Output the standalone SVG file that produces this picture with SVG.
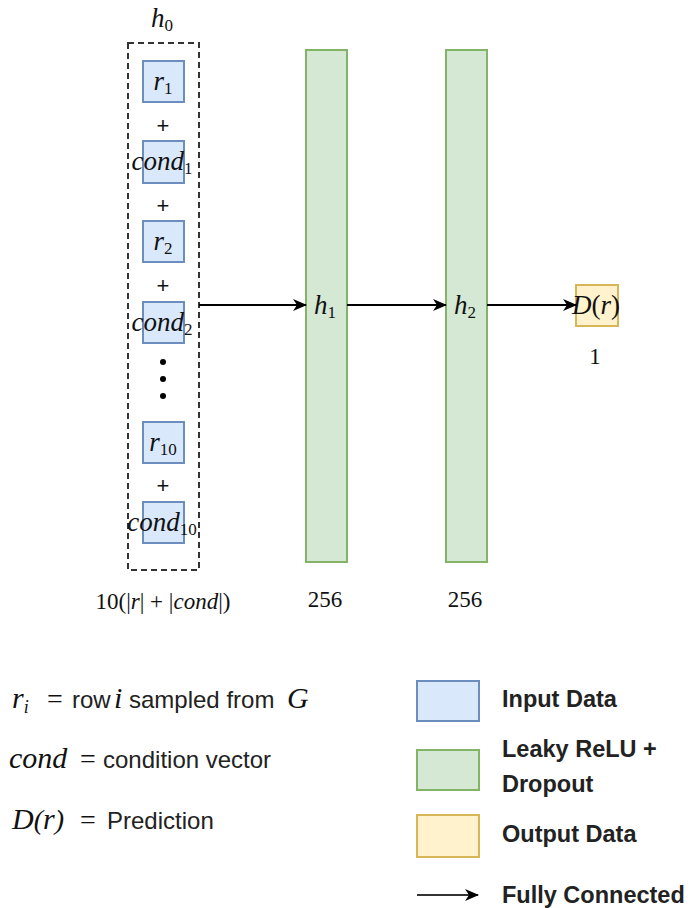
<svg xmlns="http://www.w3.org/2000/svg" width="690" height="908" viewBox="0 0 690 908">
<defs>
<style>
.in{fill:#dae8fc;stroke:#6c8ebf;stroke-width:2}
.hid{fill:#d5e8d4;stroke:#82b366;stroke-width:2}
.out{fill:#fff2cc;stroke:#d6b656;stroke-width:2}
.m{font-family:"Liberation Serif",serif;font-style:italic;font-size:27px;fill:#111}
.ml{font-family:"Liberation Serif",serif;font-style:italic;font-size:30px;fill:#111}
.eq{font-family:"Liberation Serif",serif;font-size:28px;fill:#111}
.sub{font-style:normal;font-size:17px}
.n{font-family:"Liberation Serif",serif;font-size:23px;fill:#111}
.s{font-family:"Liberation Sans",Arial,sans-serif;font-size:24px;fill:#222}
.b{font-family:"Liberation Sans",Arial,sans-serif;font-size:23.5px;fill:#222;font-weight:bold}
.plus{font-family:"Liberation Sans",Arial,sans-serif;font-size:22px;fill:#111}
.edge{stroke:#000;stroke-width:2;fill:none}
</style>
<marker id="ah" viewBox="0 0 14 12" refX="13" refY="6" markerWidth="14" markerHeight="12" markerUnits="userSpaceOnUse" orient="auto">
<path d="M0,0 L14,6 L0,12 L4,6 Z" fill="#000"/>
</marker>
</defs>

<g id="h0">
<rect x="128" y="43" width="71" height="527" fill="none" stroke="#333" stroke-width="2" stroke-dasharray="6,4"/>
<text class="m" x="162" y="27" text-anchor="middle" font-size="24">h<tspan class="sub" dy="4" font-size="15">0</tspan></text>
</g>
<g id="r1"><rect class="in" x="143" y="61" width="41" height="41"/><text class="m" x="163" y="90" text-anchor="middle">r<tspan class="sub" dy="4">1</tspan></text></g>
<text class="plus" x="163" y="133" text-anchor="middle">+</text>
<g id="cond1"><rect class="in" x="143" y="141" width="41" height="42"/><text class="m" x="162" y="170" text-anchor="middle">cond<tspan class="sub" dy="4">1</tspan></text></g>
<text class="plus" x="163" y="213" text-anchor="middle">+</text>
<g id="r2"><rect class="in" x="143" y="221" width="41" height="41"/><text class="m" x="163" y="250" text-anchor="middle">r<tspan class="sub" dy="4">2</tspan></text></g>
<text class="plus" x="163" y="293" text-anchor="middle">+</text>
<g id="cond2"><rect class="in" x="143" y="302" width="41" height="41"/><text class="m" x="162" y="331" text-anchor="middle">cond<tspan class="sub" dy="4">2</tspan></text></g>
<g id="dots" fill="#000"><circle cx="163" cy="362" r="3"/><circle cx="163" cy="379" r="3"/><circle cx="163" cy="396" r="3"/></g>
<g id="r10"><rect class="in" x="143" y="422" width="41" height="41"/><text class="m" x="163" y="451" text-anchor="middle">r<tspan class="sub" dy="4">10</tspan></text></g>
<text class="plus" x="163" y="493" text-anchor="middle">+</text>
<g id="cond10"><rect class="in" x="143" y="502" width="41" height="41"/><text class="m" x="162" y="531" text-anchor="middle">cond<tspan class="sub" dy="4">10</tspan></text></g>
<text class="n" x="163" y="609" text-anchor="middle" font-size="16">10(|<tspan font-style="italic">r</tspan>| + |<tspan font-style="italic">cond</tspan>|)</text>

<g id="h1"><rect class="hid" x="306" y="50" width="41" height="512"/><text class="m" x="325" y="314" text-anchor="middle">h<tspan class="sub" dy="4">1</tspan></text><text class="n" x="325" y="607" text-anchor="middle">256</text></g>
<g id="h2"><rect class="hid" x="446" y="50" width="41" height="512"/><text class="m" x="465" y="314" text-anchor="middle">h<tspan class="sub" dy="4">2</tspan></text><text class="n" x="465" y="607" text-anchor="middle">256</text></g>
<g id="Dr"><rect class="out" x="576" y="285" width="42" height="41"/><text class="m" x="596" y="314" text-anchor="middle">D<tspan font-style="normal">(</tspan>r<tspan font-style="normal">)</tspan></text><text class="n" x="595" y="364" text-anchor="middle">1</text></g>

<g id="connectors">
<line class="edge" x1="199" y1="305" x2="306" y2="305" marker-end="url(#ah)"/>
<line class="edge" x1="347" y1="305" x2="446" y2="305" marker-end="url(#ah)"/>
<line class="edge" x1="487" y1="305" x2="576" y2="305" marker-end="url(#ah)"/>
</g>

<g id="legend-left">
<text class="ml" x="12" y="708">r<tspan font-size="18" dy="5">i</tspan></text>
<text class="eq" x="55" y="708" text-anchor="middle">=</text>
<text class="s" x="72" y="708">row</text>
<text class="ml" x="114" y="708" font-size="27">i</text>
<text class="s" x="129" y="708">sampled from</text>
<text class="ml" x="287" y="708">G</text>

<text class="ml" x="9" y="768">cond</text>
<text class="eq" x="88" y="768" text-anchor="middle">=</text>
<text class="s" x="103" y="768">condition vector</text>

<text class="ml" x="12" y="829">D<tspan class="eq" font-size="30">(</tspan>r<tspan class="eq" font-size="30">)</tspan></text>
<text class="eq" x="88" y="829" text-anchor="middle">=</text>
<text class="s" x="107" y="829">Prediction</text>
</g>

<g id="legend-right">
<rect class="in" x="417" y="681" width="62" height="40"/>
<text class="b" x="502" y="707">Input Data</text>
<rect class="hid" x="417" y="750" width="62" height="40"/>
<text class="b" x="502" y="757">Leaky ReLU +</text>
<text class="b" x="502" y="792">Dropout</text>
<rect class="out" x="417" y="815" width="62" height="42"/>
<text class="b" x="502" y="842">Output Data</text>
<line x1="417" y1="895" x2="478" y2="895" stroke="#333" stroke-width="2" marker-end="url(#ah)"/>
<text class="b" x="502" y="903">Fully Connected</text>
</g>
</svg>
